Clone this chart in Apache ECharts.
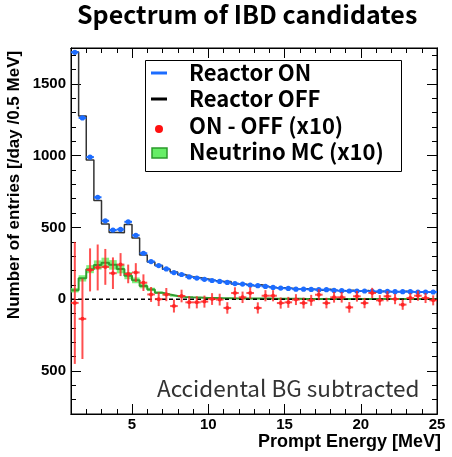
<!DOCTYPE html>
<html>
<head>
<meta charset="utf-8">
<script src="https://cdn.jsdelivr.net/npm/echarts@6/dist/echarts.min.js"></script>
<style>html,body{margin:0;padding:0;background:#fff;}#c{width:452px;height:457px;}</style>
</head>
<body>
<div id="c"></div>
<script>
// Bin edges: 0.5 MeV bins from 1 to 25 MeV (48 bins)
var binLow = 1, binWidth = 0.5, nBins = 48;

// Reactor ON rate [/day/0.5MeV]
var onRate = [1720,1263,990,710,546,482,486,539,445,320,262,234,211,185,172,155,147,138,130,124,117,109,105,98,94,89,82,77,75,70,70,68,66,66,61,59,57,57,57,54,54,54,52,52,52,50,50,50];
// Reactor OFF rate
var offRate = [1723,1277,970,688,524,464,462,521,426,308,259,234,208,190,170,157,149,140,130,124,123,105,104,94,100,87,80,80,77,70,73,69,63,69,60,58,63,55,60,50,55,52,52,56,51,48,49,51];
// ON - OFF (x10)
var diff10 = [-26,-137,204,221,225,181,241,176,186,115,33,0,32,-48,22,-22,-22,-17,1,-3,-61,43,13,43,-61,24,24,-27,-22,-3,-27,-8,31,-27,13,13,-57,20,-27,43,-8,20,1,-38,8,24,8,-8];
var diff10Err = [425,280,150,160,125,110,80,65,65,58,52,48,46,45,44,43,42,42,41,41,40,40,40,40,39,39,39,39,38,38,38,38,38,37,37,37,37,37,36,36,36,36,36,36,35,35,35,35];
// Neutrino MC (x10)
var mc10 = [62,145,209,238,254,239,210,164,131,92,68,45,32,22,16,13,11,9,8,7,6,5,5,4,4,4,3,3,3,3,2,2,2,2,2,2,2,1,1,1,1,1,1,1,1,1,1,1];
var mc10Err = [15,22,28,32,35,33,30,25,20,16,12,9,7,5,4,4,3,3,3,3,2,2,2,2,2,2,2,2,2,2,1,1,1,1,1,1,1,1,1,1,1,1,1,1,1,1,1,1];

// Tick labels
var xMajor = [5,10,15,20,25];
var yMajor = [-500,0,500,1000,1500];

var xMinor = [], yMinor = [];
for (var t = 2; t < 25; t++) if (t % 5 !== 0) xMinor.push(t);
for (var v = -700; v < 1750; v += 100) if (v % 500 !== 0) yMinor.push(v);

function centers() { var a=[]; for (var i=0;i<nBins;i++) a.push(binLow + binWidth*(i+0.5)); return a; }
var ctr = centers();
function stepData(vals) {
  var d = [];
  for (var i=0;i<vals.length;i++) d.push([binLow + binWidth*i, vals[i]]);
  d.push([binLow + binWidth*vals.length, vals[vals.length-1]]);
  return d;
}

var BLUE = '#1c6cff', RED = 'rgba(255,35,35,0.8)', GREEN_LINE = '#2f9e2f', GREEN_FILL = 'rgba(95,240,95,0.8)';
var AXF = 'Liberation Sans, Arial, sans-serif';

function xAxisDef(pos, vals, len, labels) {
  return {type:'value', min:1, max:25, position:pos, gridIndex:0,
    axisLine:{show:true, onZero:false, lineStyle:{color:'#000', width:1}},
    axisTick:{show:true, inside:true, length:len, customValues:vals, lineStyle:{color:'#000', width:1}},
    axisLabel: labels ? {show:true, customValues:vals, margin:3, color:'#000', fontFamily:AXF, fontWeight:'bold', fontSize:15} : {show:false},
    splitLine:{show:false}};
}
function yAxisDef(pos, vals, len, labels) {
  return {type:'value', min:-800, max:1750, position:pos, gridIndex:0,
    axisLine:{show:true, onZero:false, lineStyle:{color:'#000', width:1}},
    axisTick:{show:true, inside:true, length:len, customValues:vals, lineStyle:{color:'#000', width:1}},
    axisLabel: labels ? {show:true, customValues:vals, margin:5, color:'#000', fontFamily:AXF, fontWeight:'bold', fontSize:15,
      formatter:function(v){return String(Math.abs(v));}} : {show:false},
    splitLine:{show:false}};
}

var xAxes = [xAxisDef('bottom', xMajor, 10, true), xAxisDef('bottom', xMinor, 5, false), xAxisDef('top', xMajor, 10, false), xAxisDef('top', xMinor, 5, false)];
xAxes[0].name = 'Prompt Energy [MeV]';
xAxes[0].nameLocation = 'end';
xAxes[0].nameGap = 4;
xAxes[0].nameTextStyle = {align:'right', verticalAlign:'top', padding:[19,0,0,0], color:'#000', fontFamily:AXF, fontWeight:'bold', fontSize:18};
var yAxes = [yAxisDef('left', yMajor, 10, true), yAxisDef('left', yMinor, 5, false), yAxisDef('right', yMajor, 10, false), yAxisDef('right', yMinor, 5, false)];

var bandSeries = {
  type:'custom', name:'Neutrino MC (x10)', xAxisIndex:0, yAxisIndex:0, z:1,
  data: mc10.map(function(m,i){ return [ctr[i], m, mc10Err[i]]; }),
  renderItem:function(params, api){
    var x = api.value(0), y = api.value(1), e = api.value(2);
    var p1 = api.coord([x-0.25, y+e]), p2 = api.coord([x+0.25, y-e]);
    return {type:'rect', shape:{x:p1[0], y:p1[1], width:p2[0]-p1[0], height:Math.max(p2[1]-p1[1],1)}, style:{fill:GREEN_FILL}};
  }
};
var mcLine = {type:'line', name:'MC line', step:'end', data:stepData(mc10), showSymbol:false, symbol:'none', z:2,
  lineStyle:{color:GREEN_LINE, width:2}, animation:false};
var zeroLine = {type:'line', name:'zero', data:[[1,0],[25,0]], showSymbol:false, symbol:'none', z:3,
  lineStyle:{color:'#000', width:1.5, type:[4,3]}, animation:false};
var offLine = {type:'line', name:'Reactor OFF', step:'end', data:stepData(offRate), showSymbol:false, symbol:'none', z:4,
  lineStyle:{color:'#333', width:1.5}, animation:false};
var onPts = {
  type:'custom', name:'Reactor ON', z:5,
  data: onRate.map(function(v,i){ return [ctr[i], v]; }),
  renderItem:function(params, api){
    var x = api.value(0), y = api.value(1);
    var c = api.coord([x,y]), l = api.coord([x-0.25,y]), r = api.coord([x+0.25,y]);
    return {type:'group', children:[
      {type:'line', shape:{x1:l[0], y1:l[1], x2:r[0], y2:r[1]}, style:{stroke:BLUE, lineWidth:2}},
      {type:'circle', shape:{cx:c[0], cy:c[1], r:2.6}, style:{fill:BLUE}}
    ]};
  }
};
var diffPts = {
  type:'custom', name:'ON - OFF (x10)', z:6,
  data: diff10.map(function(v,i){ return [ctr[i], v, diff10Err[i]]; }),
  renderItem:function(params, api){
    var x = api.value(0), y = api.value(1), e = api.value(2);
    var c = api.coord([x,y]), l = api.coord([x-0.25,y]), r = api.coord([x+0.25,y]);
    var t = api.coord([x,y+e]), b = api.coord([x,y-e]);
    return {type:'group', children:[
      {type:'line', shape:{x1:l[0], y1:l[1], x2:r[0], y2:r[1]}, style:{stroke:RED, lineWidth:2}},
      {type:'line', shape:{x1:t[0], y1:t[1], x2:b[0], y2:b[1]}, style:{stroke:RED, lineWidth:2}},
      {type:'circle', shape:{cx:c[0], cy:c[1], r:2}, style:{fill:'rgba(255,35,35,0.95)'}}
    ]};
  }
};

var LF = 'Noto Sans CJK JP, Noto Sans, sans-serif';
var legendRows = [73, 99, 126, 152];
var graphics = [
  {type:'text', rotation:Math.PI/2, x:14, y:185, z:10,
    style:{text:'Number of entries [/day /0.5 MeV]', x:0, y:0, fill:'#000', font:'bold 17px '+AXF, textAlign:'center', textVerticalAlign:'middle'}},
  {type:'rect', shape:{x:145.5, y:60.5, width:256, height:111}, style:{fill:'#fff', stroke:'#000', lineWidth:1}, z:20},
  {type:'line', shape:{x1:151, y1:legendRows[0], x2:167, y2:legendRows[0]}, style:{stroke:BLUE, lineWidth:3}, z:21},
  {type:'line', shape:{x1:151, y1:legendRows[1], x2:167, y2:legendRows[1]}, style:{stroke:'#000', lineWidth:3}, z:21},
  {type:'circle', shape:{cx:159, cy:legendRows[2]+3, r:4}, style:{fill:'#ff1010'}, z:21},
  {type:'rect', shape:{x:152, y:legendRows[3]-4, width:15, height:10}, style:{fill:'#66ee66', stroke:'#2a9a2a', lineWidth:1.5}, z:21}
];
var legendTexts = ['Reactor ON','Reactor OFF','ON - OFF (x10)','Neutrino MC (x10)'];
legendTexts.forEach(function(s,i){
  graphics.push({type:'text', z:21, style:{text:s, x:189, y:legendRows[i], fill:'#000', font:'bold 22px '+LF, textAlign:'left', textVerticalAlign:'middle'}});
});
graphics.push({type:'text', z:21, style:{text:'Accidental BG subtracted', x:157, y:388, fill:'#333', font:'22.5px '+LF, textAlign:'left', textVerticalAlign:'middle'}});

var chart = echarts.init(document.getElementById('c'), null, {renderer:'canvas'});
chart.setOption({
  animation:false,
  backgroundColor:'#fff',
  title:{text:'Spectrum of IBD candidates', left:72, top:-3, textStyle:{fontFamily:LF, fontWeight:'bold', fontSize:25, color:'#000'}},
  grid:{left:71, right:15, top:48, bottom:43, show:true, borderColor:'#000', borderWidth:1, backgroundColor:'transparent', containLabel:false},
  xAxis:xAxes,
  yAxis:yAxes,
  series:[bandSeries, mcLine, zeroLine, offLine, onPts, diffPts],
  graphic:graphics
});
</script>
</body>
</html>
